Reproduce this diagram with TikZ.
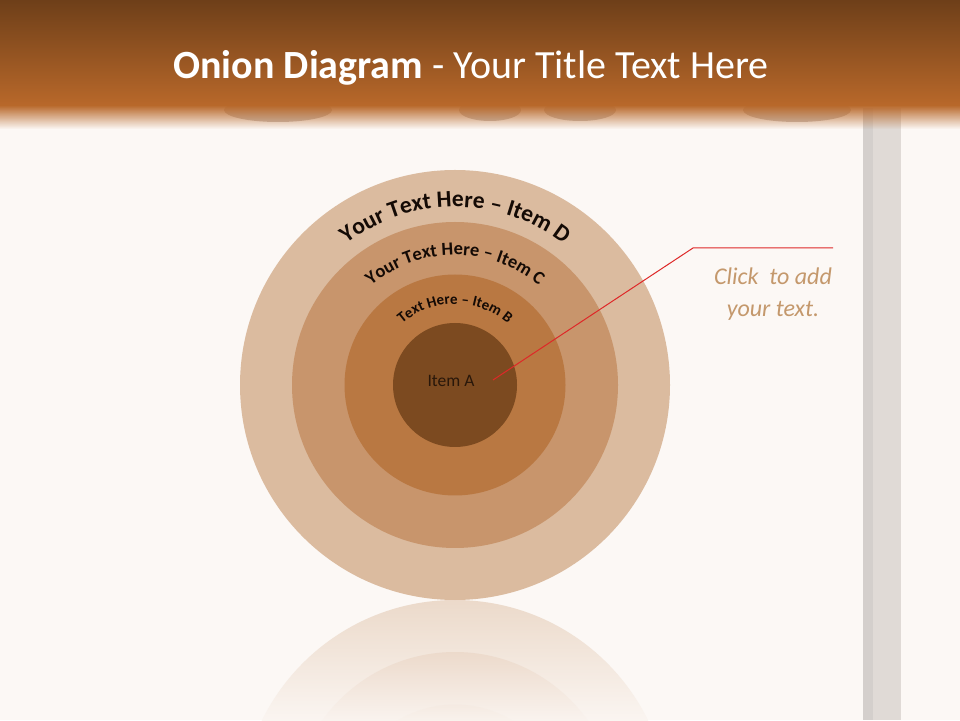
\documentclass[tikz,border=0pt]{standalone}
\usepackage{fontspec}
\setmainfont{Carlito}
\usetikzlibrary{decorations.text}
\definecolor{bg}{RGB}{252,248,245}
\definecolor{barTop}{RGB}{110,63,25}
\definecolor{barBot}{RGB}{184,104,42}
\definecolor{cloud}{RGB}{204,192,184}
\definecolor{poleL}{RGB}{224,218,214}
\definecolor{poleD}{RGB}{212,207,204}
\definecolor{cD}{RGB}{219,187,159}
\definecolor{cC}{RGB}{200,149,108}
\definecolor{cB}{RGB}{185,120,66}
\definecolor{cA}{RGB}{124,74,32}
\definecolor{arcText}{RGB}{20,10,5}
\definecolor{tanText}{RGB}{196,152,108}
\definecolor{redLine}{RGB}{222,40,40}
\tikzset{
  ring/.style={circle, inner sep=0pt, draw=none},
  arclabel/.style={decorate, decoration={text along path, text align=center, text color=arcText, text={#1}}}
}
\begin{document}
\begin{tikzpicture}[x=1pt,y=1pt]
\useasboundingbox (0,0) rectangle (960,720);
\fill[bg] (0,0) rectangle (960,720);
% pole
\fill[poleL] (863,0) rectangle (901,612);
\fill[poleD] (863,0) rectangle (873,612);
% clouds
\fill[cloud] (278,610) ellipse [x radius=54, y radius=12];
\fill[cloud] (490,610) ellipse [x radius=31, y radius=11];
\fill[cloud] (580,610) ellipse [x radius=36, y radius=11];
\fill[cloud] (797,610) ellipse [x radius=54, y radius=12];
% title bar
\shade[top color=barTop, bottom color=barBot] (0,615) rectangle (960,720);
\foreach \i in {0,...,24}{
  \fill[barBot, opacity={1-\i/24}] (0,{615-\i}) rectangle (960,{614-\i});
}
\node[text=white, font=\fontsize{40}{40}\selectfont] (title) at (471,652) {\textbf{Onion Diagram} - Your Title Text Here};
% reflection
\begin{scope}
  \clip (455,-95) circle (215);
  \shade[top color=cD!50!bg, bottom color=cD!5!bg] (235,0) rectangle (675,120);
\end{scope}
\begin{scope}
  \clip (455,-95) circle (163);
  \shade[top color=cC!50!bg, bottom color=cC!5!bg] (235,0) rectangle (675,120);
\end{scope}
\begin{scope}
  \clip (455,-95) circle (110.5);
  \shade[top color=cB!50!bg, bottom color=cB!5!bg] (235,0) rectangle (675,120);
\end{scope}
% onion rings
\node[ring, fill=cD, minimum size=430pt] (D) at (455,335) {};
\node[ring, fill=cC, minimum size=326pt] (C) at (455,335) {};
\node[ring, fill=cB, minimum size=221pt] (B) at (455,335) {};
\node[ring, fill=cA, minimum size=124pt] (A) at (455,335) {};
\node[text=arcText!80!cA, font=\fontsize{17.5}{17.5}\selectfont] (itemA) at (451,339) {Item A};
% arc labels
\path[arclabel={|\fontsize{23.5}{23.5}\bfseries\selectfont|Your Text Here – Item D}]
  (D.center) ++(134:178) arc[start angle=134, end angle=46, radius=178];
\path[arclabel={|\fontsize{18.5}{18.5}\bfseries\selectfont|Your Text Here – Item C}]
  (D.center) ++(138:130) arc[start angle=138, end angle=42, radius=130];
\path[arclabel={|\fontsize{15}{15}\bfseries\selectfont|Text Here – Item B}]
  (D.center) ++(140:81) arc[start angle=140, end angle=40, radius=81];
% callout
\coordinate (p0) at (493,340);
\coordinate (p1) at (693,472);
\coordinate (p2) at (833,472);
\draw[redLine, line width=1pt] (p0) -- (p1) -- (p2);
\node[align=center, text=tanText, font=\itshape\fontsize{24}{32}\selectfont] (click) at (773,426) {Click\ \ to add\\your text.};
\end{tikzpicture}
\end{document}
